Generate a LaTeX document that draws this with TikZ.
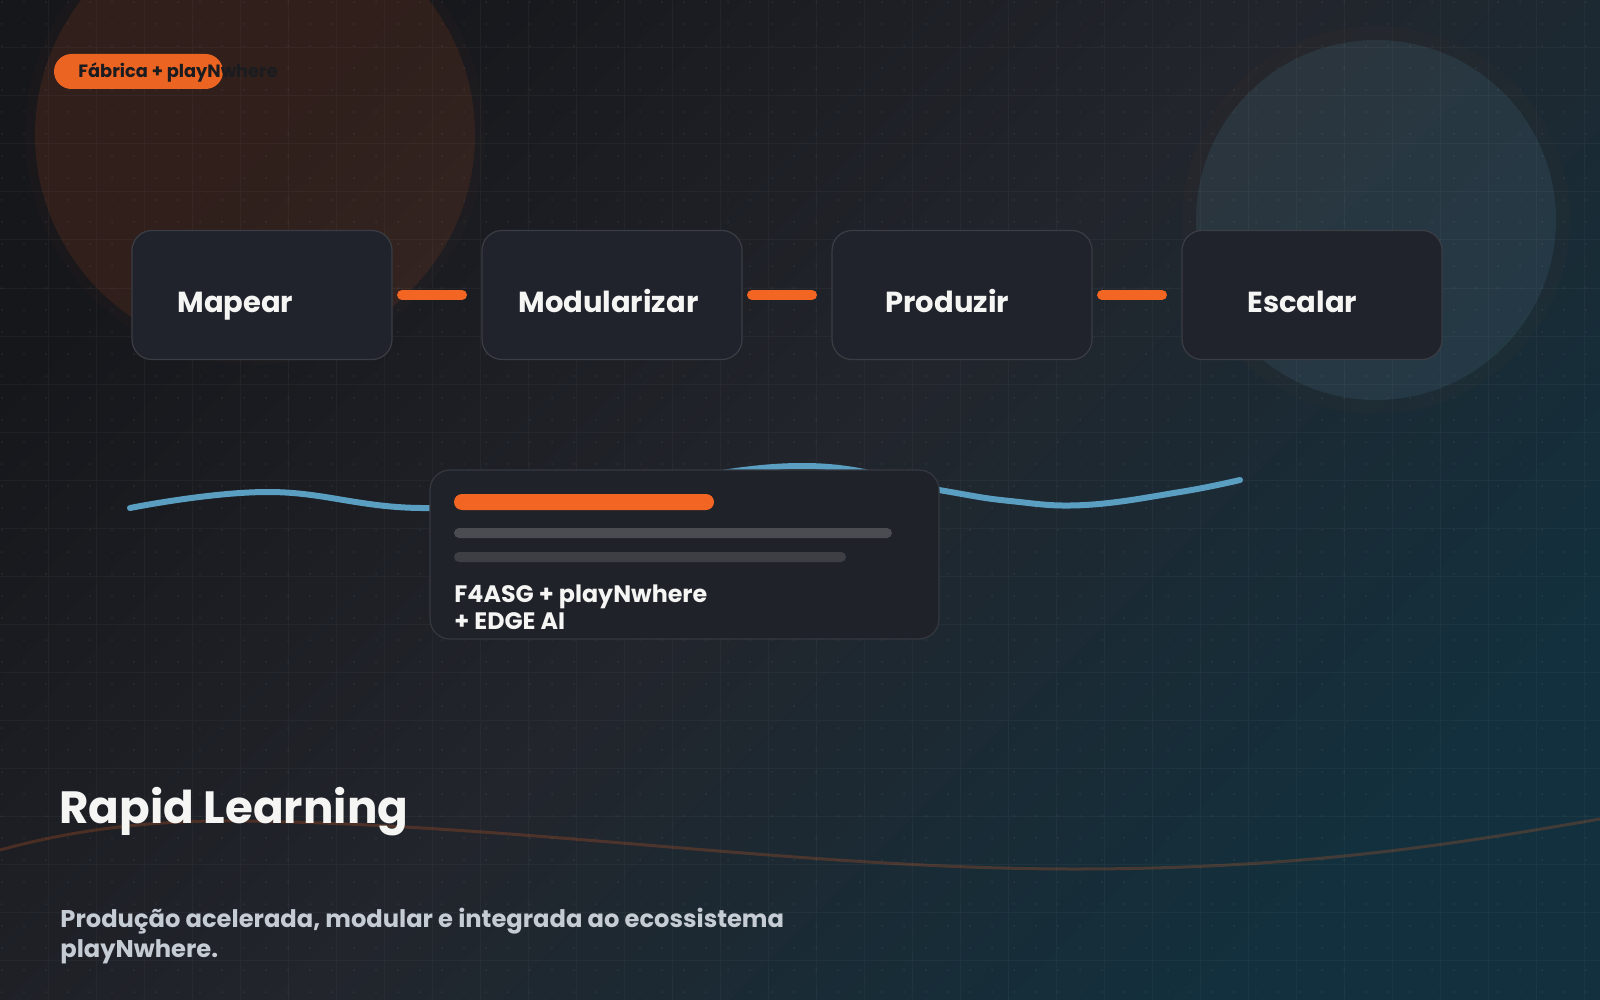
\documentclass[tikz,border=0pt]{standalone}
\usepackage{fontspec}
\setmainfont{Poppins}
\usetikzlibrary{calc}
\definecolor{bgA}{HTML}{16171B}
\definecolor{bgB}{HTML}{22252C}
\definecolor{bgC}{HTML}{12303D}
\definecolor{accent}{HTML}{F26522}
\definecolor{pillc}{HTML}{EC6422}
\definecolor{boxfill}{HTML}{20232B}
\definecolor{boxline}{HTML}{3A3D44}
\definecolor{cardfill}{HTML}{1F2229}
\definecolor{cardline}{HTML}{35383F}
\definecolor{wavec}{HTML}{5A9EC2}
\definecolor{blueglow}{HTML}{5A9DC0}
\definecolor{grayA}{HTML}{4B4C52}
\definecolor{grayB}{HTML}{3D3F45}
\definecolor{subc}{HTML}{C6CCD4}
\definecolor{titlec}{HTML}{F5F5F4}
\definecolor{badgetext}{HTML}{1B1C20}
\begin{document}
\begin{tikzpicture}[x=0.5pt,y=-0.5pt,
  stepbox/.style={draw=boxline, line width=0.6pt, fill=boxfill, rounded corners=10pt,
    minimum width=130pt, minimum height=64.5pt, inner sep=0pt, outer sep=0pt},
  steplabel/.style={anchor=base west, text=titlec, inner sep=0pt,
    font=\bfseries\fontsize{14.5}{17}\selectfont},
  linkbar/.style={draw=accent, line width=5pt, line cap=round},
  cardbox/.style={draw=cardline, line width=0.6pt, fill=cardfill, rounded corners=10pt,
    minimum width=254.5pt, minimum height=84.5pt, inner sep=0pt, outer sep=0pt},
  cardtext/.style={anchor=base west, text=titlec, inner sep=0pt,
    font=\bfseries\fontsize{11.9}{14}\selectfont},
  subtext/.style={anchor=base west, text=subc, inner sep=0pt,
    font=\bfseries\fontsize{12.1}{14.5}\selectfont},
]
\useasboundingbox (0,0) rectangle (1600,1000);
% background
\shade[top color=bgA, bottom color=bgC, middle color=bgB, shading angle=45] (0,0) rectangle (1600,1000);
% glow circles
\fill[accent, opacity=0.02] (255,135) circle[radius=230];
\fill[accent, opacity=0.10] (255,135) circle[radius=220];
\fill[accent, opacity=0.02] (1376,220) circle[radius=194];
\fill[blueglow, opacity=0.12] (1376,220) circle[radius=180];
% grid
\draw[white, opacity=0.035, line width=0.5pt]
  \foreach \i in {1,...,33} {(48*\i,0) -- (48*\i,1000)}
  \foreach \j in {1,...,20} {(0,48*\j) -- (1600,48*\j)};
\fill[white, opacity=0.07]
  \foreach \i in {0,...,72} {\foreach \j in {0,...,45} {(2+22*\i,2+22*\j) circle[radius=1]}};
% bottom brown wave
\draw[accent, opacity=0.22, line width=1.5pt]
  (0,850) .. controls (80,828) and (160,820) .. (240,821)
  .. controls (520,824) and (800,869) .. (1075,869)
  .. controls (1300,869) and (1450,845) .. (1600,819);
% badge
\node[fill=pillc, rounded corners=8.75pt, minimum width=84.5pt, minimum height=17.5pt, inner sep=0pt] (badge) at (138.5,71.5) {};
\node[anchor=base west, text=badgetext, inner sep=0pt, font=\bfseries\fontsize{8.9}{11}\selectfont] (badgetxt) at (78,78) {Fábrica + playNwhere};
% steps
\node[stepbox] (m1) at (262,295) {};
\node[stepbox] (m2) at (612,295) {};
\node[stepbox] (m3) at (962,295) {};
\node[stepbox] (m4) at (1312,295) {};
\node[steplabel] (t1) at (177,313) {Mapear};
\node[steplabel] (t2) at (518,313) {Modularizar};
\node[steplabel] (t3) at (885,313) {Produzir};
\node[steplabel] (t4) at (1247,313) {Escalar};
\draw[linkbar] ([xshift=5pt]m1.east) -- ([xshift=-10pt]m2.west);
\draw[linkbar] ([xshift=5pt]m2.east) -- ([xshift=-10pt]m3.west);
\draw[linkbar] ([xshift=5pt]m3.east) -- ([xshift=-10pt]m4.west);
% blue wave
\draw[wavec, line width=3pt, line cap=round]
  plot[smooth, tension=0.7] coordinates {(130,508) (268,492) (430,508) (620,488) (805,466) (939,490) (1010,501) (1085,505) (1180,492) (1240,480)};
% card
\node[cardbox] (card) at (684.5,554.5) {};
\fill[accent, rounded corners=4pt] (454,494) rectangle (714,510);
\fill[grayA, rounded corners=2.5pt] (454,528) rectangle (892,538);
\fill[grayB, rounded corners=2.5pt] (454,552) rectangle (846,562);
\node[cardtext] (c1) at (454,602) {F4ASG + playNwhere};
\node[cardtext] (c2) at (454,629) {+ EDGE AI};
% titles
\node[anchor=base west, text=titlec, inner sep=0pt, font=\bfseries\fontsize{22.6}{27}\selectfont] (title) at (59,823) {Rapid Learning};
\node[subtext] (s1) at (60,927) {Produção acelerada, modular e integrada ao ecossistema};
\node[subtext] (s2) at (60,957) {playNwhere.};
\end{tikzpicture}
\end{document}
